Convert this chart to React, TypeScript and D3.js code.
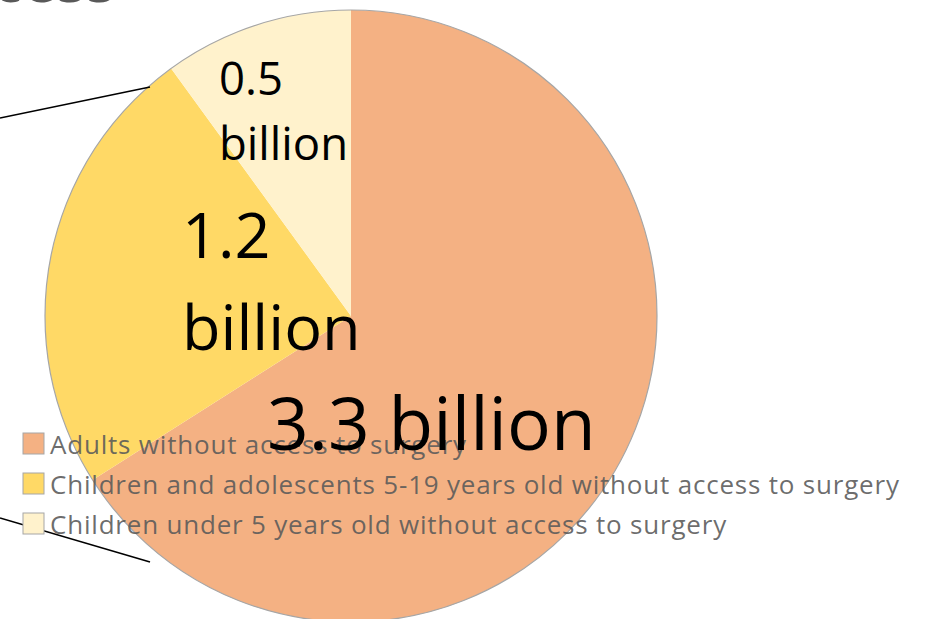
import React from "react";
import * as d3 from "d3";

const categories = [
  "Adults without access to surgery",
  "Children and adolescents 5-19 years old without access to surgery",
  "Children under 5 years old without access to surgery",
];
const values = [3.3, 1.2, 0.5];
const colors = ["#F4B183", "#FFD966", "#FFF2CC"];
const labelLines = [["3.3 billion"], ["1.2", "billion"], ["0.5", "billion"]];
const titleFragment = "cess";

const W = 931;
const H = 619;
const CX = 351;
const CY = 316;
const R = 306;

// label layout: [x, first baseline, line gap, font size]
const labelLayout = [
  { x: 267, y: 450, gap: 0, size: 73 },
  { x: 182, y: 258, gap: 92, size: 63 },
  { x: 219, y: 95, gap: 65, size: 45.5 },
];

export default function App() {
  const pie = d3
    .pie<number>()
    .sort(null)
    .value((d) => d);
  const arcs = pie(values);
  const arc = d3.arc<d3.PieArcDatum<number>>().innerRadius(0).outerRadius(R);

  const legendY = d3.scaleBand<number>().domain(d3.range(categories.length)).range([433, 553]);

  return (
    <div style={{ position: "fixed", left: 0, top: 0 }}>
      <svg width={W} height={H} style={{ display: "block", background: "#fff" }}>
        <text
          x={-8}
          y={2}
          fontFamily="'Open Sans', sans-serif"
          fontSize={62}
          fill="#595959"
        >
          {titleFragment}
        </text>
        <g transform={`translate(${CX},${CY})`}>
          {arcs.map((a, i) => (
            <path key={i} d={arc(a) || ""} fill={colors[i]} />
          ))}
          <circle r={R} fill="none" stroke="#A6A6A6" strokeWidth={1.2} />
        </g>
        <line x1={0} y1={118} x2={150} y2={87} stroke="#000" strokeWidth={1.6} />
        <line x1={0} y1={518} x2={150} y2={562} stroke="#000" strokeWidth={1.6} />
        <g fontFamily="'Open Sans', sans-serif">
          {categories.map((c, i) => {
            const y = legendY(i) as number;
            return (
              <g key={i}>
                <rect x={23} y={y} width={21} height={21} fill={colors[i]} stroke="#A6A6A6" strokeWidth={1} />
                <text
                  x={50}
                  y={y + 21}
                  fontSize={26}
                  letterSpacing={0.8}
                  fill="#595959"
                  fillOpacity={0.88}
                >
                  {c}
                </text>
              </g>
            );
          })}
        </g>
        <g fontFamily="'Open Sans', sans-serif" fill="#000">
          {labelLines.map((lines, i) => {
            const L = labelLayout[i];
            return (
              <text key={i} x={L.x} y={L.y} fontSize={L.size}>
                {lines.map((t, j) => (
                  <tspan key={j} x={L.x} y={L.y + j * L.gap}>
                    {t}
                  </tspan>
                ))}
              </text>
            );
          })}
        </g>
      </svg>
    </div>
  );
}
